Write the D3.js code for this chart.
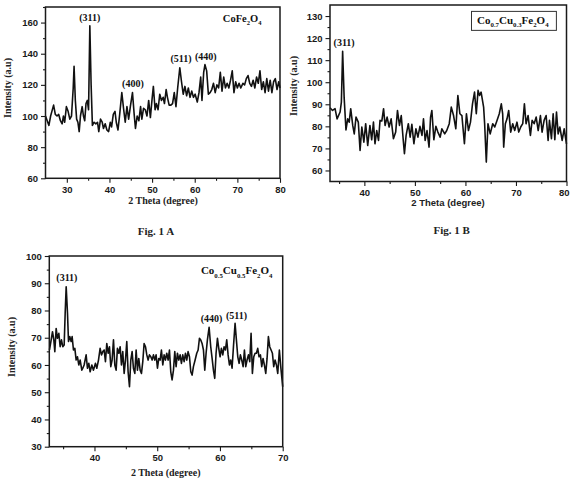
<!DOCTYPE html>
<html><head><meta charset="utf-8">
<script src="https://cdn.jsdelivr.net/npm/d3@7"></script>
<style>body{margin:0;background:#fff}svg{display:block}</style>
</head><body>
<svg id="chart" width="570" height="493"></svg>
<script>
// ---------- DATA ----------
const scanA = [[25.0,100],[25.4,97],[25.8,94],[26.2,100],[26.5,103],[26.9,107],[27.3,101],[27.7,100],[28.1,101],[28.5,97],[28.9,95],[29.2,100],[29.5,96],[29.9,106],[30.3,103],[30.7,98],[31.1,100],[31.5,118],[31.7,132],[32.0,110],[32.3,98],[32.6,96],[32.9,90],[33.2,100],[33.6,106],[33.9,100],[34.2,97],[34.5,108],[34.8,110],[35.1,104],[35.4,158],[35.7,120],[36.0,94],[36.4,96],[36.8,95],[37.2,96],[37.5,90],[37.9,98],[38.3,96],[38.6,92],[39.0,95],[39.4,91],[39.8,90],[40.2,96],[40.5,93],[40.9,101],[41.3,103],[41.6,96],[42.0,91],[42.4,101],[42.9,115],[43.3,105],[43.7,96],[44.1,106],[44.5,98],[44.9,106],[45.4,115],[45.8,101],[46.1,92],[46.5,100],[46.9,97],[47.3,106],[47.6,98],[48.0,105],[48.4,104],[48.8,100],[49.2,110],[49.6,99],[50.0,111],[50.3,119],[50.7,104],[51.0,108],[51.4,104],[51.8,114],[52.2,110],[52.6,112],[52.9,108],[53.3,117],[53.6,112],[54.0,107],[54.4,107],[54.8,108],[55.2,115],[55.6,106],[56.0,118],[56.5,131],[56.9,122],[57.3,114],[57.7,119],[58.1,113],[58.5,118],[58.9,112],[59.3,116],[59.7,112],[60.1,114],[60.6,109],[61.0,115],[61.4,125],[61.7,110],[62.1,128],[62.4,133],[62.8,129],[63.2,114],[63.6,115],[64.0,117],[64.4,121],[64.8,115],[65.2,120],[65.6,118],[66.0,128],[66.4,116],[66.8,125],[67.2,118],[67.6,121],[68.0,118],[68.4,123],[68.8,129],[69.2,115],[69.6,122],[70.0,118],[70.4,121],[70.8,118],[71.3,121],[71.7,120],[72.1,124],[72.5,126],[72.9,121],[73.3,119],[73.7,123],[74.1,118],[74.5,125],[74.9,121],[75.3,129],[75.7,117],[76.1,122],[76.5,115],[76.9,124],[77.3,116],[77.7,123],[78.1,115],[78.5,122],[78.9,124],[79.3,117],[79.7,122],[80.0,118]];

const scanB = [[33.2,88.4],[33.7,87.2],[34.2,88],[34.6,83.4],[35.2,86.5],[35.45,91],[35.7,114],[36.0,93],[36.36,78.4],[36.7,83.4],[37.0,81.9],[37.3,88],[37.7,80.4],[38.0,76.6],[38.35,84.2],[38.8,81.9],[39.15,69.1],[39.5,79.7],[39.9,72.8],[40.26,81.2],[40.66,71.3],[41.1,80.4],[41.45,73.9],[41.8,81.9],[42.1,72.1],[42.45,78.1],[42.8,73.6],[43.1,82.7],[43.45,82.4],[43.8,88],[44.1,80.4],[44.5,84.2],[44.9,79.7],[45.3,83.4],[45.75,74.4],[46.2,77.4],[46.55,87.2],[46.95,80.4],[47.3,84.9],[47.7,73.6],[47.93,67.6],[48.26,75.9],[48.7,81.2],[49.06,75.1],[49.4,80.9],[49.8,72.1],[50.2,78.9],[50.6,75.1],[51.0,80],[51.4,75.9],[51.7,83.4],[52.03,73.6],[52.4,78.1],[52.8,70.6],[53.1,84.2],[53.36,87.2],[53.75,73.9],[54.15,80],[54.55,77.4],[55.0,75.1],[55.34,78.9],[55.9,76.6],[56.3,78.1],[56.8,81.2],[57.2,88.7],[57.65,84.9],[58.1,78.9],[58.5,94],[58.9,85.7],[59.3,84.9],[59.8,72.1],[60.2,85.7],[60.6,78.1],[61.0,81.9],[61.4,90.2],[61.8,95.5],[62.15,85.7],[62.5,96.3],[62.8,94],[63.1,95.5],[63.6,88.7],[63.8,81.2],[64.13,63.8],[64.46,81.2],[64.9,76.6],[65.4,81.2],[65.8,79.7],[66.25,82.7],[66.7,85.7],[67.1,90.2],[67.37,85.7],[67.57,70.6],[67.9,81.2],[68.23,83.4],[68.56,87.2],[68.96,77.4],[69.36,81.2],[69.75,78.1],[70.2,81.9],[70.55,77.4],[70.94,79.7],[71.34,81.2],[71.67,90.2],[72.0,81.2],[72.4,84.9],[72.86,75.9],[73.2,82.7],[73.6,81.2],[74.0,84.2],[74.4,78.1],[74.84,84.9],[75.17,77.4],[75.57,82.7],[75.97,84.9],[76.36,73.6],[76.63,82.7],[77.02,74.4],[77.36,85.7],[77.69,73.9],[78.02,86.5],[78.35,76.6],[78.68,79.7],[79.14,73.6],[79.54,78.9],[80.0,72.1]];

const scanC = [[32.83,65.5],[33.1,69.2],[33.31,72.2],[33.52,69.2],[33.68,64.9],[33.89,73.4],[34.1,69.8],[34.32,71.6],[34.53,66.7],[34.74,69.2],[34.95,66.7],[35.17,67.3],[35.33,79],[35.49,88.7],[35.7,79],[35.86,68.6],[36.07,70.4],[36.28,68.6],[36.44,70.4],[36.65,65.5],[36.87,66.1],[37.08,61.8],[37.29,63],[37.5,60],[37.72,61.8],[37.98,58.1],[38.14,58.8],[38.35,60],[38.67,63.7],[38.88,58.8],[39.1,60.6],[39.31,57.5],[39.58,60],[39.84,58.1],[40.16,60.6],[40.37,58.8],[40.64,61.8],[40.9,66.1],[41.12,63.7],[41.33,64.9],[41.54,65.5],[41.75,61.2],[41.96,67.9],[42.18,64.3],[42.39,66.7],[42.6,59.4],[42.81,61.8],[43.03,69.2],[43.24,60],[43.45,58.1],[43.66,66.1],[43.88,64.3],[44.09,66.7],[44.3,60],[44.51,64.9],[44.73,56.9],[44.94,61.8],[45.15,68.6],[45.36,57.5],[45.58,52],[45.79,61.8],[46.0,64.9],[46.21,58.8],[46.43,56.9],[46.64,65.5],[46.85,58.1],[47.06,62.4],[47.28,58.1],[47.49,56.9],[47.7,61.2],[47.91,67.9],[48.13,66.7],[48.34,63.7],[48.55,61.8],[48.76,63.7],[48.98,63],[49.19,61.8],[49.4,63.7],[49.61,61.8],[49.82,63.7],[50.04,58.8],[50.25,62.4],[50.46,61.8],[50.67,65.5],[50.89,60],[51.1,63.7],[51.31,61.8],[51.52,64.3],[51.74,61.8],[51.95,65.5],[52.16,57.5],[52.37,54.5],[52.59,58.1],[52.8,64.9],[53.01,59.4],[53.22,64.3],[53.44,61.8],[53.65,63.7],[53.86,60.6],[54.07,63.7],[54.29,61.2],[54.5,64.3],[54.71,61.8],[54.92,64.9],[55.14,63],[55.35,57.5],[55.56,56.3],[55.77,59.4],[56.04,61.8],[56.3,64.3],[56.52,65.5],[56.73,69.8],[56.94,69.2],[57.15,67.9],[57.37,65.5],[57.58,58.1],[57.79,64.3],[58.0,69.2],[58.27,73.8],[58.53,66.7],[58.75,62.4],[58.96,58.1],[59.17,55.1],[59.38,64.3],[59.6,69.8],[59.81,66.1],[60.02,63],[60.23,66.1],[60.45,63.7],[60.66,66.7],[60.87,65.5],[61.08,69.2],[61.3,63.7],[61.51,60],[61.72,61.8],[61.93,58.8],[62.15,66.7],[62.41,75.3],[62.62,69.2],[62.84,63],[63.05,60.6],[63.26,63.7],[63.47,61.8],[63.69,59.4],[63.9,65.5],[64.11,59.4],[64.32,61.8],[64.54,63.7],[64.75,61.2],[64.96,71.6],[65.17,56.9],[65.39,63],[65.6,64.3],[65.81,64.3],[66.02,66.1],[66.23,63],[66.45,63.7],[66.66,59.4],[66.87,62.4],[67.08,60],[67.3,56.9],[67.51,62.4],[67.72,70.4],[67.93,66.7],[68.15,65.5],[68.36,64.3],[68.57,59.4],[68.78,61.8],[69.0,60],[69.21,56.9],[69.47,65.5],[69.69,59.4],[70.0,52]];

const xTicksA = [30,40,50,60,70,80];
const yTicksA = [60,80,100,120,140,160];
const xTicksB = [40,50,60,70,80];
const yTicksB = [60,70,80,90,100,110,120,130];
const xTicksC = [40,50,60,70];
const yTicksC = [30,40,50,60,70,80,90,100];

const peaksA = [{t:"(311)",x:35.4,y:161},{t:"(400)",x:45.5,y:118.5},{t:"(511)",x:56.8,y:134.5},{t:"(440)",x:62.6,y:136}];
const peaksB = [{t:"(311)",x:36.0,y:116.4}];
const peaksC = [{t:"(311)",x:35.6,y:91},{t:"(440)",x:58.66,y:75.7},{t:"(511)",x:62.64,y:76.9}];

const xTitle = "2 Theta (degree)";
const yTitle = "Intensity (a.u)";

// ---------- DRAW ----------
const svg = d3.select("#chart");
const SERIF = "'Liberation Serif','Times New Roman',serif";
const SANS = "'Liberation Sans',Arial,sans-serif";
const W = 570;

function formula(sel, parts, size){
  parts.forEach(([s, sub], i)=>{
    const prev = i>0 ? parts[i-1][1] : false;
    let dy = 0;
    if (sub && !prev) dy = size*0.3;
    if (!sub && prev) dy = -size*0.3;
    sel.append("tspan").attr("dy", dy).attr("font-size", sub ? size*0.62 : size).text(s);
  });
}

function panel(cfg){
  const g = svg.append("g");
  const x = d3.scaleLinear().domain(cfg.xd).range([cfg.l, cfg.r]);
  const y = d3.scaleLinear().domain(cfg.yd).range([cfg.b, cfg.t]);

  // minor ticks
  g.append("g").attr("transform",`translate(0,${cfg.b})`)
    .call(d3.axisBottom(x).tickValues(cfg.xMinor).tickSize(2.5).tickFormat(""))
    .call(a=>a.select(".domain").remove());
  g.append("g").attr("transform",`translate(${cfg.l},0)`)
    .call(d3.axisLeft(y).tickValues(cfg.yMinor).tickSize(2.5).tickFormat(""))
    .call(a=>a.select(".domain").remove());
  // major ticks
  const ax = g.append("g").attr("transform",`translate(0,${cfg.b})`)
    .call(d3.axisBottom(x).tickValues(cfg.xTicks).tickSize(4.5).tickPadding(3).tickFormat(d3.format("d")));
  const ay = g.append("g").attr("transform",`translate(${cfg.l},0)`)
    .call(d3.axisLeft(y).tickValues(cfg.yTicks).tickSize(4.5).tickPadding(3).tickFormat(d3.format("d")));
  [ax, ay].forEach(a=>{
    a.select(".domain").remove();
    a.selectAll("text").attr("font-family", SANS).attr("font-weight","bold").attr("font-size", 9.5).attr("fill","#1a1a1a");
  });
  // keep edge tick labels inside the canvas
  ax.selectAll(".tick text").each(function(){
    const bb = this.getBBox();
    const tr = this.parentNode.transform.baseVal.consolidate().matrix.e;
    if (tr + bb.x + bb.width > W - 0.5) d3.select(this).attr("text-anchor","end").attr("x", W - 0.5 - tr);
  });
  g.selectAll(".tick line").attr("stroke","#1a1a1a").attr("stroke-width",1.1);

  // curve
  g.append("path").datum(cfg.data)
    .attr("fill","none").attr("stroke","#111").attr("stroke-width",1.6).attr("stroke-linejoin","round")
    .attr("d", d3.line().x(d=>x(d[0])).y(d=>y(d[1])));

  // frame
  g.append("rect").attr("x",cfg.l).attr("y",cfg.t).attr("width",cfg.r-cfg.l).attr("height",cfg.b-cfg.t)
    .attr("fill","none").attr("stroke","#1a1a1a").attr("stroke-width",1.5);

  // peak labels
  g.selectAll("text.pk").data(cfg.peaks).join("text").attr("class","pk")
    .attr("x", d=>x(d.x)).attr("y", d=>y(d.y)).attr("text-anchor","middle")
    .attr("font-family", SERIF).attr("font-weight","bold").attr("font-size",10).attr("fill","#111")
    .text(d=>d.t);

  // compound label
  if (cfg.boxD){
    const bx0 = x(cfg.boxD[0]), bx1 = x(cfg.boxD[1]), by0 = y(cfg.boxD[2]), by1 = y(cfg.boxD[3]);
    g.append("rect").attr("x",bx0).attr("y",by0).attr("width",bx1-bx0).attr("height",by1-by0)
      .attr("fill","none").attr("stroke","#333").attr("stroke-width",1);
  }
  const ft = g.append("text").attr("x", x(cfg.form.x)).attr("y", y(cfg.form.y))
    .attr("font-family", SERIF).attr("font-weight","bold").attr("fill","#111");
  formula(ft, cfg.form.parts, cfg.form.size);

  // axis titles
  g.append("text").attr("x", cfg.xt[0]).attr("y", cfg.xt[1]).attr("text-anchor","middle")
    .attr("font-family", cfg.xtFont).attr("font-weight","bold").attr("font-size", cfg.xtSize).attr("fill","#222")
    .text(xTitle);
  g.append("text").attr("transform",`translate(${cfg.yt[0]},${cfg.yt[1]}) rotate(-90)`).attr("text-anchor","middle")
    .attr("font-family", SERIF).attr("font-weight","bold").attr("font-size", 10).attr("fill","#222")
    .text(yTitle);
  if (cfg.caption){
    g.append("text").attr("x", cfg.caption[1]).attr("y", cfg.caption[2]).attr("text-anchor","middle")
      .attr("font-family", SERIF).attr("font-weight","bold").attr("font-size", 11).attr("fill","#222")
      .text(cfg.caption[0]);
  }
}

const range5 = (a,b,s)=>d3.range(a,b+0.001,s);

panel({
  data: scanA, l:45.5, r:280, t:7, b:178.3, xd:[25,80], yd:[60,170],
  xTicks:xTicksA, yTicks:yTicksA,
  xMinor: range5(35,75,10), yMinor: range5(70,170,20),
  peaks: peaksA,
  form:{x:66.6, y:160.6, size:10.5, parts:[["CoFe",0],["2",1],["O",0],["4",1]]},
  xt:[163,204], xtFont:SERIF, xtSize:10, yt:[11,88],
  caption:["Fig. 1 A",156,235]
});

panel({
  data: scanB, l:330, r:566.5, t:5, b:181.5, xd:[33.2,80], yd:[55,135],
  xTicks:xTicksB, yTicks:yTicksB,
  xMinor: range5(35,75,10), yMinor: range5(65,125,10),
  peaks: peaksB,
  boxD:[61.2,78.0,132.1,123.5],
  form:{x:62.3, y:126.4, size:11, parts:[["Co",0],["0.7",1],["Cu",0],["0.3",1],["Fe",0],["2",1],["O",0],["4",1]]},
  xt:[448,206], xtFont:SANS, xtSize:9.5, yt:[297,86],
  caption:["Fig. 1 B",451.7,234]
});

panel({
  data: scanC, l:49.3, r:282.7, t:256, b:446.7, xd:[32.8,70], yd:[30,100],
  xTicks:xTicksC, yTicks:yTicksC,
  xMinor: range5(35,65,10), yMinor: range5(35,95,10),
  peaks: peaksC,
  form:{x:56.96, y:93.3, size:11, parts:[["Co",0],["0.5",1],["Cu",0],["0.5",1],["Fe",0],["2",1],["O",0],["4",1]]},
  xt:[165.7,476], xtFont:SERIF, xtSize:10, yt:[15,347],
  caption:null
});
</script>
</body></html>
